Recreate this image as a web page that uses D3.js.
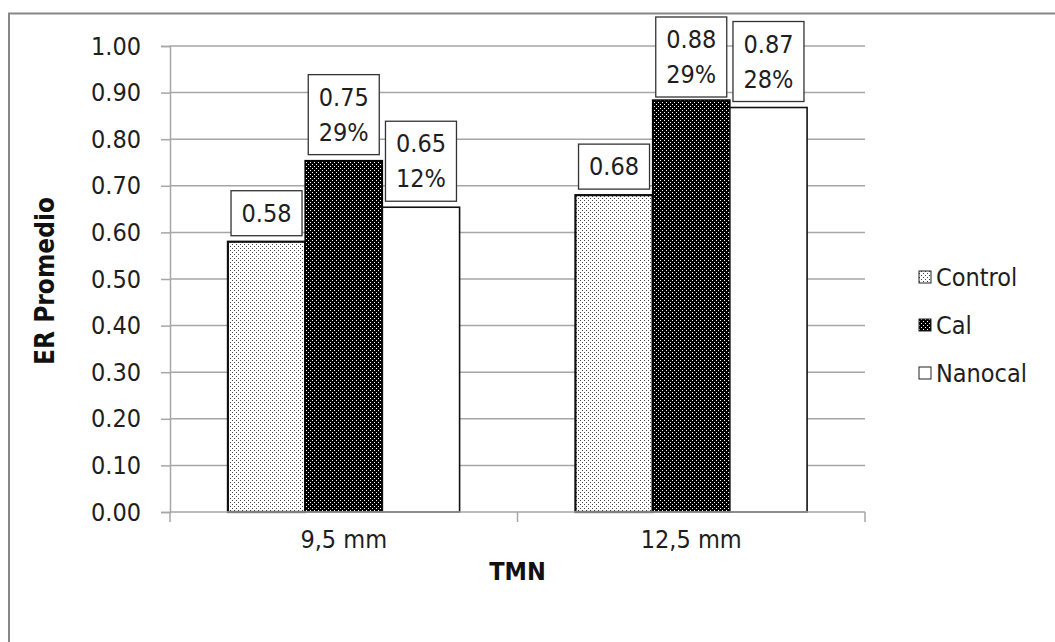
<!DOCTYPE html>
<html>
<head>
<meta charset="utf-8">
<script src="https://cdn.jsdelivr.net/npm/d3@7"></script>
<style>
  html, body { margin: 0; padding: 0; background: #fff; }
  svg { display: block; }
  text { font-family: "DejaVu Sans Condensed", "DejaVu Sans", sans-serif; font-stretch: condensed; }
</style>
</head>
<body>
<svg id="chart" width="1055" height="642"></svg>
<script>
// Mean ER by nominal maximum size (TMN) and treatment
const categories = ["9,5 mm", "12,5 mm"];
const seriesNames = ["Control", "Cal", "Nanocal"];
const controlValues = [0.58, 0.68];
const calValues = [0.754, 0.884];
const nanocalValues = [0.654, 0.868];
// Increase over control, shown under the value in each label
const calGain = ["29%", "29%"];
const nanocalGain = ["12%", "28%"];
const yTicks = [0, 0.1, 0.2, 0.3, 0.4, 0.5, 0.6, 0.7, 0.8, 0.9, 1.0];

const seriesValues = { Control: controlValues, Cal: calValues, Nanocal: nanocalValues };
const seriesGain = { Control: null, Cal: calGain, Nanocal: nanocalGain };

const svg = d3.select("#chart");
const W = 1055, H = 642;
const plot = { left: 170, right: 865, top: 46, bottom: 512 };
const gridColor = "#a6a6a6";
const fontSize = 25;
const textColor = "#1e1e1e";

// Outer chart frame
svg.append("rect")
  .attr("x", 9).attr("y", 13.5)
  .attr("width", W + 20).attr("height", H + 20)
  .attr("fill", "#fff").attr("stroke", "#878787").attr("stroke-width", 2);

// Fill patterns
const defs = svg.append("defs");
const pLight = defs.append("pattern").attr("id", "dotsLight")
  .attr("patternUnits", "userSpaceOnUse").attr("width", 4).attr("height", 4);
pLight.append("rect").attr("width", 4).attr("height", 4).attr("fill", "#fff");
pLight.append("rect").attr("x", 0).attr("y", 0).attr("width", 1).attr("height", 1).attr("fill", "#444");
pLight.append("rect").attr("x", 2).attr("y", 2).attr("width", 1).attr("height", 1).attr("fill", "#444");

const pDark = defs.append("pattern").attr("id", "dotsDark")
  .attr("patternUnits", "userSpaceOnUse").attr("width", 4).attr("height", 4);
pDark.append("rect").attr("width", 4).attr("height", 4).attr("fill", "#000");
pDark.append("rect").attr("x", 0).attr("y", 0).attr("width", 1).attr("height", 1).attr("fill", "#fff");
pDark.append("rect").attr("x", 2).attr("y", 2).attr("width", 1).attr("height", 1).attr("fill", "#fff");

const fills = { Control: "url(#dotsLight)", Cal: "url(#dotsDark)", Nanocal: "#fff" };
const strokes = { Control: "#111", Cal: "#000", Nanocal: "#111" };
const strokeWidths = { Control: 2.2, Cal: 1.5, Nanocal: 1.6 };

// Scales
const x = d3.scaleBand().domain(categories).range([plot.left, plot.right]).padding(0);
const xs = d3.scaleBand().domain(seriesNames).range([0, x.bandwidth()])
  .paddingInner(0).paddingOuter(0.75);
const y = d3.scaleLinear().domain([0, 1]).range([plot.bottom, plot.top]);

// Gridlines
svg.append("g").selectAll("line").data(yTicks.filter(t => t > 0)).join("line")
  .attr("x1", plot.left).attr("x2", plot.right)
  .attr("y1", d => y(d)).attr("y2", d => y(d))
  .attr("stroke", gridColor).attr("stroke-width", 1.5);

// Y axis
const yAxis = svg.append("g").attr("transform", `translate(${plot.left},0)`)
  .call(d3.axisLeft(y).tickValues(yTicks).tickFormat(d3.format(".2f"))
    .tickSize(9).tickPadding(20));
yAxis.select(".domain").attr("stroke", gridColor).attr("stroke-width", 1.5);
yAxis.selectAll(".tick line").attr("stroke", gridColor).attr("stroke-width", 1.5);
yAxis.selectAll(".tick text").attr("font-size", fontSize).attr("fill", textColor)
  .attr("font-family", null);

// Bars
const rows = [];
categories.forEach((c, i) => seriesNames.forEach(s => {
  rows.push({ cat: c, series: s, value: seriesValues[s][i],
              gain: seriesGain[s] ? seriesGain[s][i] : null });
}));

svg.append("g").selectAll("rect").data(rows).join("rect")
  .attr("x", d => x(d.cat) + xs(d.series))
  .attr("y", d => y(d.value))
  .attr("width", xs.bandwidth())
  .attr("height", d => y(0) - y(d.value))
  .attr("fill", d => fills[d.series])
  .attr("stroke", d => strokes[d.series])
  .attr("stroke-width", d => strokeWidths[d.series]);

// X axis (drawn over bar bottoms)
const xAxisG = svg.append("g");
xAxisG.append("line").attr("x1", plot.left).attr("x2", plot.right)
  .attr("y1", y(0)).attr("y2", y(0)).attr("stroke", gridColor).attr("stroke-width", 1.5);
const edges = [plot.left, ...categories.map(c => x(c) + x.bandwidth())];
xAxisG.selectAll("line.tk").data(edges).join("line").attr("class", "tk")
  .attr("x1", d => d).attr("x2", d => d)
  .attr("y1", y(0)).attr("y2", y(0) + 10)
  .attr("stroke", gridColor).attr("stroke-width", 1.5);
xAxisG.selectAll("text").data(categories).join("text")
  .attr("x", d => x(d) + x.bandwidth() / 2).attr("y", y(0) + 27)
  .attr("text-anchor", "middle").attr("dominant-baseline", "central")
  .attr("font-size", fontSize).attr("fill", textColor).text(d => d);

// Data labels in boxes above each bar
const boxW = 71, lineGap = 35, pad = 11;
const labels = svg.append("g").selectAll("g").data(rows).join("g");
labels.each(function(d) {
  const g = d3.select(this);
  const lines = [d3.format(".2f")(d.value)];
  if (d.gain) lines.push(d.gain);
  const h = pad * 2 + 23 + (lines.length - 1) * lineGap;
  const cx = x(d.cat) + xs(d.series) + xs.bandwidth() / 2;
  let top = y(d.value) - 6 - h;
  if (top < 17) top = 17;
  g.append("rect").attr("x", cx - boxW / 2).attr("y", top)
    .attr("width", boxW).attr("height", h)
    .attr("fill", "#fff").attr("stroke", "#333").attr("stroke-width", 1.3);
  lines.forEach((t, k) => {
    g.append("text").attr("x", cx)
      .attr("y", top + pad + 11.5 + k * lineGap)
      .attr("text-anchor", "middle").attr("dominant-baseline", "central")
      .attr("font-size", fontSize).attr("fill", textColor).text(t);
  });
});

// Axis titles
svg.append("text")
  .attr("transform", `translate(45,${(plot.top + plot.bottom) / 2 + 2}) rotate(-90)`)
  .attr("text-anchor", "middle").attr("dominant-baseline", "central")
  .attr("font-size", 26).attr("font-weight", "bold").attr("fill", "#111")
  .text("ER Promedio");
svg.append("text")
  .attr("x", (plot.left + plot.right) / 2).attr("y", 571)
  .attr("text-anchor", "middle").attr("dominant-baseline", "central")
  .attr("font-size", 25).attr("font-weight", "bold").attr("fill", "#111")
  .text("TMN");

// Legend
const legend = svg.append("g").selectAll("g").data(seriesNames).join("g")
  .attr("transform", (d, i) => `translate(919,${277 + i * 48})`);
legend.append("rect").attr("x", 0).attr("y", -6).attr("width", 12).attr("height", 12)
  .attr("fill", d => fills[d]).attr("stroke", "#222").attr("stroke-width", 1);
legend.append("text").attr("x", 17).attr("y", 0)
  .attr("dominant-baseline", "central")
  .attr("font-size", fontSize).attr("fill", textColor).text(d => d);
</script>
</body>
</html>
